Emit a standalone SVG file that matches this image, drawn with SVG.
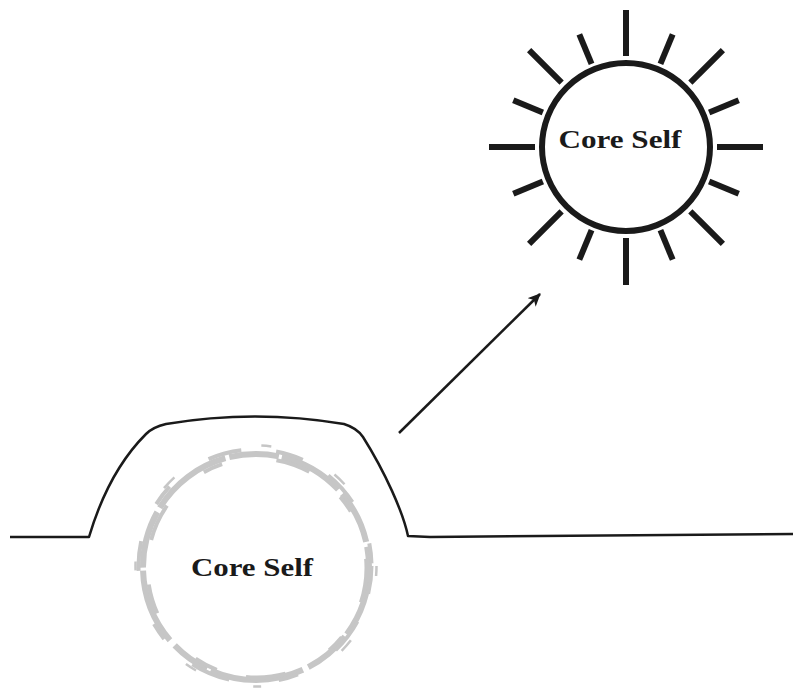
<svg xmlns="http://www.w3.org/2000/svg" width="793" height="688" viewBox="0 0 793 688">
<style>
.lbl{font-family:"Liberation Serif","Times New Roman",serif;font-weight:bold;font-size:26px;fill:#1a1a1a;text-anchor:middle}
.ray{stroke:#1a1a1a;stroke-width:6;stroke-linecap:butt}
.ring{fill:none;stroke:#c6c6c6}
</style>
<defs>
<marker id="ah" markerWidth="14" markerHeight="12" refX="12" refY="6" orient="auto" markerUnits="userSpaceOnUse">
<path d="M0,0 L13,6 L0,12 L3.5,6 z" fill="#1a1a1a"/>
</marker>
</defs>
<rect width="793" height="688" fill="#fff"/>
<g id="ground">
<path d="M10,537 L89,537 C100,500 118,462 146,434 Q153,427 166,424 Q255,409 344,424 Q357,428 363,437 C385,472 403,512 408,536 L430,537 L793,534" fill="none" stroke="#1a1a1a" stroke-width="2.5" stroke-linejoin="round"/>
</g>
<g id="buried-self">
<circle class="ring" cx="256" cy="567" r="113" stroke-width="6" stroke-dasharray="72 3 48 6 95 4 40 7 76 3 58 5 84 4 50 3 66 6 54 5 41 4"/>
<circle class="ring" cx="255" cy="566" r="116.5" stroke-width="4" stroke-dasharray="28 30 36 45 20 50 40 38 18 56 30 40 22 48 34 35"/>
<circle class="ring" cx="257" cy="568" r="109.5" stroke-width="4" stroke-dasharray="35 40 18 50 40 30 24 60 30 45 38 50 20 55"/>
<circle class="ring" cx="256" cy="566" r="120.5" stroke-width="2.5" stroke-dasharray="10 70 14 90 8 60 12 110 9 80 15 95"/>
<text class="lbl" x="252" y="576" textLength="122" lengthAdjust="spacingAndGlyphs">Core  Self</text>
</g>
<g id="connectors">
<line x1="399" y1="433" x2="540" y2="294" stroke="#1a1a1a" stroke-width="2.5" marker-end="url(#ah)"/>
</g>
<g id="sun-self">
<circle cx="626" cy="147" r="84" fill="#fff" stroke="#1a1a1a" stroke-width="6"/>
<g transform="translate(626,147)">
<line class="ray" x1="0" y1="-91" x2="0" y2="-137"/>
<line class="ray" x1="0" y1="-91" x2="0" y2="-137" transform="rotate(45)"/>
<line class="ray" x1="0" y1="-91" x2="0" y2="-137" transform="rotate(90)"/>
<line class="ray" x1="0" y1="-91" x2="0" y2="-137" transform="rotate(135)"/>
<line class="ray" x1="0" y1="-91" x2="0" y2="-138" transform="rotate(180)"/>
<line class="ray" x1="0" y1="-91" x2="0" y2="-137" transform="rotate(225)"/>
<line class="ray" x1="0" y1="-91" x2="0" y2="-137" transform="rotate(270)"/>
<line class="ray" x1="0" y1="-91" x2="0" y2="-137" transform="rotate(315)"/>
<line class="ray" x1="0" y1="-90" x2="0" y2="-122" transform="rotate(22.5)"/>
<line class="ray" x1="0" y1="-90" x2="0" y2="-122" transform="rotate(67.5)"/>
<line class="ray" x1="0" y1="-90" x2="0" y2="-122" transform="rotate(112.5)"/>
<line class="ray" x1="0" y1="-90" x2="0" y2="-122" transform="rotate(157.5)"/>
<line class="ray" x1="0" y1="-90" x2="0" y2="-122" transform="rotate(202.5)"/>
<line class="ray" x1="0" y1="-90" x2="0" y2="-122" transform="rotate(247.5)"/>
<line class="ray" x1="0" y1="-90" x2="0" y2="-122" transform="rotate(292.5)"/>
<line class="ray" x1="0" y1="-90" x2="0" y2="-122" transform="rotate(337.5)"/>
</g>
<text class="lbl" x="620" y="148" textLength="123" lengthAdjust="spacingAndGlyphs">Core  Self</text>
</g>
</svg>
